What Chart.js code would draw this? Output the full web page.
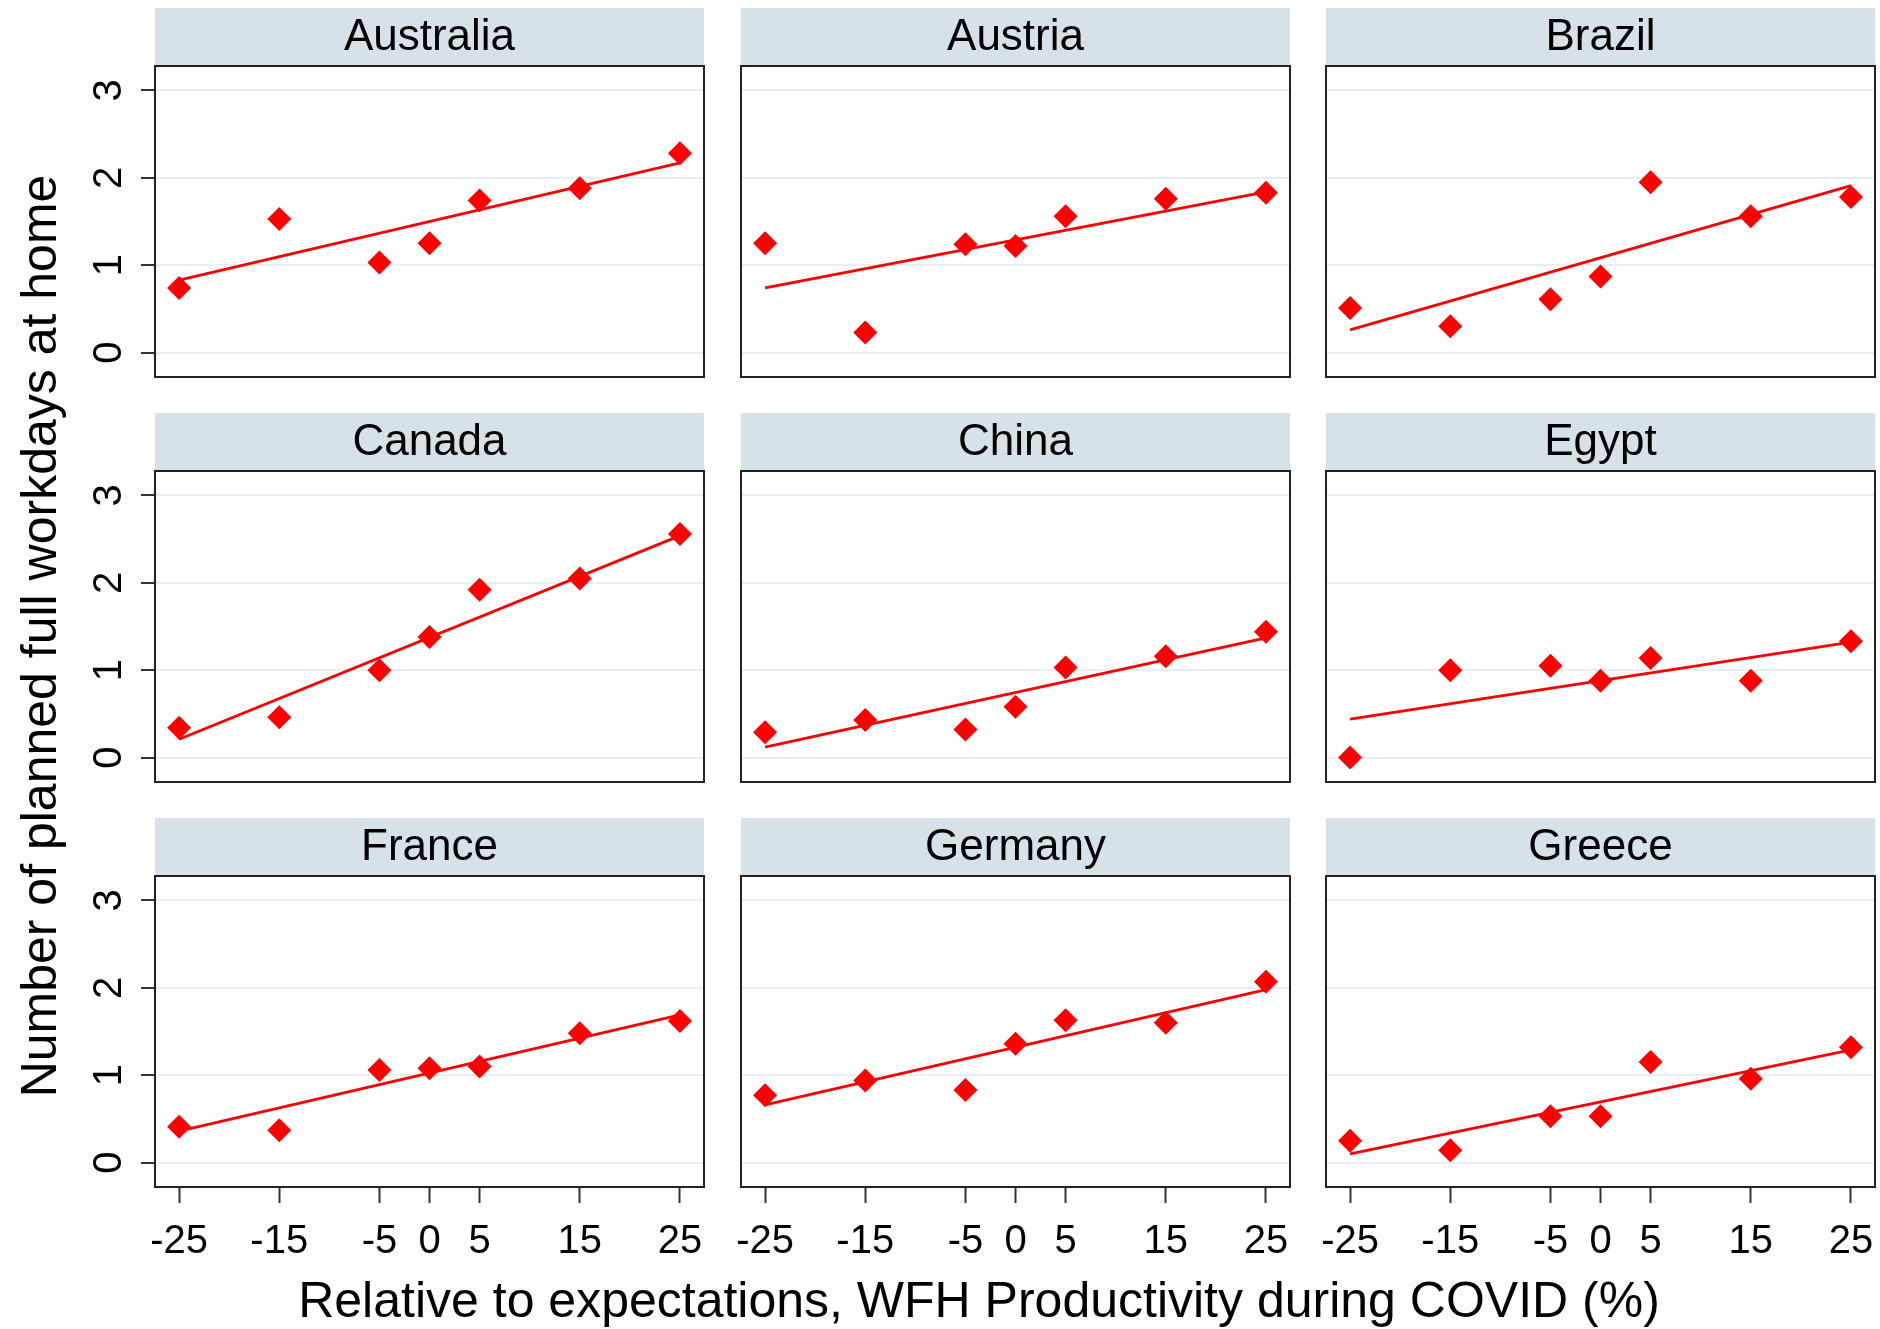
<!DOCTYPE html>
<html>
<head>
<meta charset="utf-8">
<script src="https://cdn.jsdelivr.net/npm/chart.js@4/dist/chart.umd.min.js"></script>
<style>
  body { margin: 0; background: #fff; }
  #page { position: relative; width: 1880px; height: 1329px; background: #fff; overflow: hidden; }
  #page canvas { position: absolute; }
  .axis-title { position: absolute; font-family: 'Liberation Sans', Arial, sans-serif; font-size: 50px; color: #000; text-align: center; white-space: nowrap; line-height: 58px; }
  #ytitle { width: 1000px; left: -461px; top: 607px; transform: rotate(-90deg); }
  #xtitle { width: 1400px; left: 279px; top: 1271px; }
</style>
</head>
<body>
<div id="page">
  <div id="ytitle" class="axis-title">Number of planned full workdays at home</div>
  <div id="xtitle" class="axis-title">Relative to expectations, WFH Productivity during COVID (%)</div>
</div>
<script>
// data
const countries = ['Australia', 'Austria', 'Brazil', 'Canada', 'China', 'Egypt', 'France', 'Germany', 'Greece'];
const xValues = [-25, -15, -5, 0, 5, 15, 25];
const xTicks = [-25, -15, -5, 0, 5, 15, 25];
const yTicks = [0, 1, 2, 3];

const australiaDays = [0.74, 1.53, 1.03, 1.25, 1.74, 1.88, 2.28];
const austriaDays   = [1.25, 0.23, 1.24, 1.22, 1.56, 1.76, 1.83];
const brazilDays    = [0.51, 0.30, 0.61, 0.87, 1.95, 1.56, 1.78];
const canadaDays    = [0.34, 0.46, 1.00, 1.38, 1.92, 2.05, 2.56];
const chinaDays     = [0.29, 0.43, 0.32, 0.58, 1.03, 1.16, 1.44];
const egyptDays     = [0.00, 1.00, 1.05, 0.88, 1.14, 0.88, 1.33];
const franceDays    = [0.41, 0.37, 1.06, 1.08, 1.10, 1.48, 1.62];
const germanyDays   = [0.77, 0.94, 0.83, 1.36, 1.63, 1.60, 2.07];
const greeceDays    = [0.25, 0.14, 0.53, 0.53, 1.15, 0.96, 1.32];

// fitted line, value at x = -25 and x = 25
const fitX = [-25, 25];
const australiaFit = [0.83, 2.17];
const austriaFit   = [0.74, 1.84];
const brazilFit    = [0.26, 1.91];
const canadaFit    = [0.21, 2.54];
const chinaFit     = [0.12, 1.37];
const egyptFit     = [0.44, 1.32];
const franceFit    = [0.36, 1.69];
const germanyFit   = [0.66, 1.98];
const greeceFit    = [0.10, 1.29];

const daysByCountry = [australiaDays, austriaDays, brazilDays, canadaDays, chinaDays, egyptDays, franceDays, germanyDays, greeceDays];
const fitByCountry = [australiaFit, austriaFit, brazilFit, canadaFit, chinaFit, egyptFit, franceFit, germanyFit, greeceFit];

// layout
const frameLefts = [155, 741, 1326];
const stripTops = [8, 413, 818];
const frameW = 549, frameH = 311, stripH = 58, xAxisH = 80, yAxisLeft = 90;
const FONT = "'Liberation Sans', Arial, sans-serif";
const red = '#ff0000';
const stripColor = 'rgb(214,226,231)';
const gridColor = '#e6eff1';
const frameColor = '#222';

const panelFrame = {
  id: 'panelFrame',
  beforeDraw(chart) {
    const { ctx, chartArea: a } = chart;
    const s = chart.scales.strip;
    ctx.save();
    ctx.fillStyle = stripColor;
    ctx.fillRect(a.left, s.top, a.right - a.left, s.bottom - s.top);
    ctx.restore();
  },
  afterDraw(chart) {
    const { ctx, chartArea: a } = chart;
    ctx.save();
    ctx.strokeStyle = frameColor;
    ctx.lineWidth = 2;
    ctx.strokeRect(a.left, a.top, a.right - a.left, a.bottom - a.top);
    ctx.restore();
  }
};

function makePanel(i) {
  const row = Math.floor(i / 3), col = i % 3;
  const isLeft = col === 0, isBottom = row === 2;

  const canvas = document.createElement('canvas');
  const left = isLeft ? yAxisLeft : frameLefts[col] - 4;
  const width = isLeft ? frameLefts[0] + frameW + 4 - yAxisLeft : frameW + 8;
  const height = stripH + frameH + (isBottom ? xAxisH : 0) + 4;
  canvas.width = width;
  canvas.height = height;
  canvas.style.left = left + 'px';
  canvas.style.top = stripTops[row] + 'px';
  canvas.style.width = width + 'px';
  canvas.style.height = height + 'px';
  document.getElementById('page').appendChild(canvas);

  const points = xValues.map((x, k) => ({ x, y: daysByCountry[i][k] }));
  const fit = fitX.map((x, k) => ({ x, y: fitByCountry[i][k] }));

  return new Chart(canvas.getContext('2d'), {
    type: 'scatter',
    data: {
      datasets: [
        {
          type: 'line', data: fit, borderColor: red, borderWidth: 2.8,
          pointRadius: 0, fill: false, tension: 0, order: 2
        },
        {
          data: points, pointStyle: 'rectRot', pointRadius: 12, hoverRadius: 12,
          backgroundColor: red, borderColor: red, borderWidth: 0, order: 1
        }
      ]
    },
    plugins: [panelFrame],
    options: {
      responsive: false,
      animation: false,
      devicePixelRatio: 1,
      layout: { autoPadding: false, padding: { left: isLeft ? 0 : 4, right: 4, top: 0, bottom: 4 } },
      plugins: { legend: { display: false }, tooltip: { enabled: false } },
      scales: {
        x: {
          type: 'linear', position: 'bottom', min: -27.4, max: 27.4,
          display: isBottom,
          afterBuildTicks: s => { s.ticks = xTicks.map(v => ({ value: v })); },
          afterFit: s => { s.height = isBottom ? xAxisH : 0; s.paddingLeft = 0; s.paddingRight = 0; },
          grid: { drawOnChartArea: false, drawTicks: true, tickLength: 16, tickColor: '#333', tickWidth: 2 },
          border: { display: false },
          ticks: { color: '#000', font: { family: FONT, size: 40 }, padding: 15, maxRotation: 0, autoSkip: false }
        },
        strip: {
          type: 'linear', position: 'top', display: true,
          afterFit: s => { s.height = stripH; s.paddingLeft = 0; s.paddingRight = 0; },
          grid: { display: false },
          border: { display: false },
          ticks: { display: false },
          title: { display: true, text: countries[i], color: '#000', font: { family: FONT, size: 44 }, padding: { top: 3, bottom: 0 } }
        },
        y: {
          type: 'linear', min: -0.28, max: 3.28,
          afterBuildTicks: s => { s.ticks = yTicks.map(v => ({ value: v })); },
          afterFit: s => { s.width = isLeft ? frameLefts[0] - yAxisLeft : 0; s.paddingTop = 0; s.paddingBottom = 0; },
          grid: { color: gridColor, lineWidth: 2, drawTicks: isLeft, tickLength: 14, tickColor: '#333', tickWidth: 2 },
          border: { display: false },
          ticks: {
            display: isLeft, color: '#000', font: { family: FONT, size: 40 },
            minRotation: 90, maxRotation: 90, padding: 20, crossAlign: 'center'
          }
        }
      }
    }
  });
}

countries.forEach((c, i) => makePanel(i));
</script>
</body>
</html>
